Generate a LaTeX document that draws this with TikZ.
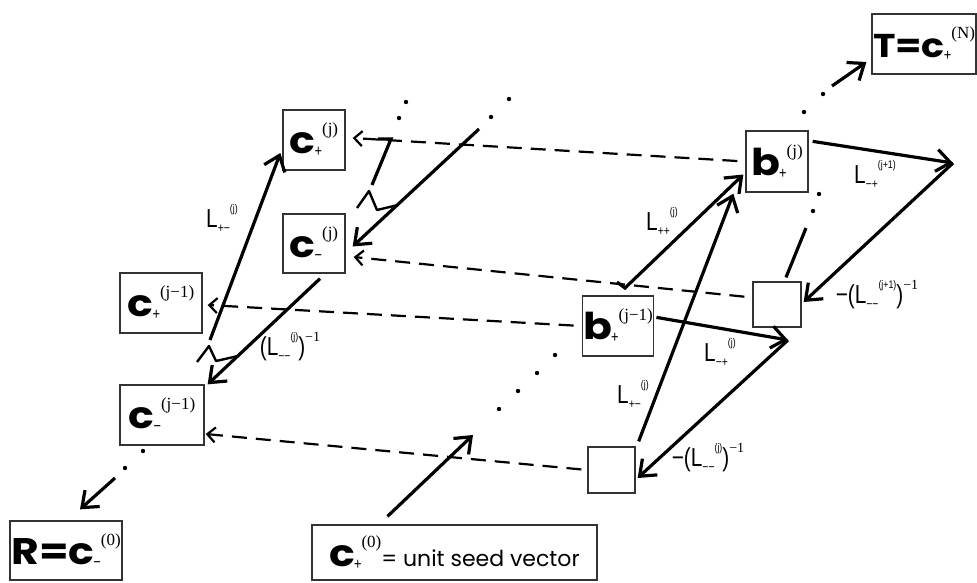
\documentclass[tikz,border=0pt]{standalone}
\usepackage{fontspec}
\usetikzlibrary{arrows.meta}
\newfontfamily\gfont{Poppins}
\newfontfamily\bfnt[FakeStretch=1.15]{Poppins}
\newfontfamily\lfont[FakeStretch=0.8]{Liberation Sans}
\newfontfamily\rfont{Liberation Serif}
\newcommand{\vtx}[3]{{\bfnt\bfseries #1}\kern-1pt\raisebox{-3pt}{\lfont\fontsize{16}{16}\selectfont #2}\raisebox{19pt}{\rfont\fontsize{17}{17}\selectfont #3}}
\newcommand{\Lop}[2]{L\raisebox{-5pt}{\fontsize{13}{13}\selectfont #1}\raisebox{15pt}{\fontsize{11}{11}\selectfont #2}}
\newcommand{\Linv}[2]{(\Lop{#1}{#2})\raisebox{14pt}{\rfont\fontsize{14}{14}\selectfont −1}}

\begin{document}
\begin{tikzpicture}[x=1pt, y=-1pt,
    vbox/.style={draw=black!80, line width=1.3pt, inner sep=1pt, font=\fontsize{37}{40}\selectfont},
    link/.style={line width=3.2pt, -{Straight Barb[length=14pt,width=22pt]}},
    back/.style={line width=2.2pt, dash pattern=on 15pt off 9pt, -{Straight Barb[length=8pt,width=15pt]}},
    opl/.style={font=\lfont\fontsize{26}{26}\selectfont, inner sep=0pt}]
  \useasboundingbox (0,0) rectangle (977,582);

  \node[vbox, minimum width=62pt, minimum height=60pt] (cpj) at (314,140) {\vtx{c}{+}{(j)}};
  \node[vbox, minimum width=62pt, minimum height=59pt] (cmj) at (314,243.5) {\vtx{c}{−}{(j)}};
  \node[vbox, minimum width=82pt, minimum height=60pt] (cpjm) at (161,303) {\vtx{c}{+}{(j−1)}};
  \node[vbox, minimum width=84pt, minimum height=60pt] (cmjm) at (162,415) {\vtx{c}{−}{(j−1)}};
  \node[vbox, minimum width=112pt, minimum height=59pt] (rbox) at (66,550.5) {{\bfnt\bfseries R=}\vtx{c}{−}{(0)}};
  \node[vbox, minimum width=285pt, minimum height=55pt] (seed) at (454.5,552.5) {\vtx{c}{+}{(0)}{\gfont\fontsize{22}{22}\selectfont= unit seed vector}};
  \node[vbox, minimum width=102pt, minimum height=60pt, font=\fontsize{33}{36}\selectfont] (tbox) at (924,44) {{\bfnt\bfseries T=}\vtx{c}{+}{(N)}};
  \node[vbox, minimum width=62pt, minimum height=61pt] (bj) at (777,161.5) {\vtx{b}{+}{(j)}};
  \node[vbox, minimum width=70pt, minimum height=60pt] (bjm) at (618,326) {\vtx{b}{+}{(j−1)}};
  \node[vbox, minimum width=48pt, minimum height=45pt] (ej1) at (777,304.5) {};
  \node[vbox, minimum width=47pt, minimum height=46pt] (ej) at (611.5,470) {};

  \coordinate (lt) at (210,340);
  \coordinate (mt) at (479,129);
  \coordinate (sa) at (473,435);
  \coordinate (rt) at (115,478);
  \coordinate (tt) at (832,86);
  \coordinate (kb) at (625,288);
  \coordinate (kj) at (953,163);
  \coordinate (kjm) at (788,340);
  \coordinate (lu) at (806,228);

  \draw[back, shorten <=8pt] (bj.west) -- ([xshift=7pt,yshift=2pt]cpj.east);
  \draw[back, shorten <=8pt] ([yshift=7pt]ej1.west) -- ([xshift=8pt,yshift=-13.5pt]cmj.east);
  \draw[back, shorten <=8pt] (bjm.west) -- ([xshift=5pt,yshift=-2pt]cpjm.east);
  \draw[back, shorten <=6pt] (ej.west) -- ([xshift=1pt,yshift=-19pt]cmjm.east);

  \draw[link] (lt) -- ([xshift=-2pt,yshift=-13pt]cpj.west);
  \draw[link] ([xshift=6pt,yshift=-5pt]cmj.south) -- ([xshift=3pt]cmjm.north east);
  \draw[link] (mt) -- ([xshift=7pt,yshift=-3pt]cmj.east);
  \draw[line width=3.2pt] (378,139) -- (391,139) -- (372,185);
  \draw[line width=2.4pt, line join=round] (197,362) -- (209,346) -- (216,361) -- (238,356);
  \draw[line width=2.4pt, line join=round] (357,208) -- (369,191) -- (377,210) -- (398,205);
  \draw[link] ([xshift=-67pt,yshift=8pt]seed.north) -- (sa);
  \draw[link] (rt) -- ([xshift=14pt,yshift=11pt]rbox.north);
  \draw[link] (tt) -- ([xshift=-5pt,yshift=-18pt]tbox.west);
  \draw[link] (617,282) -- (kb) -- ([xshift=-2pt,yshift=-13pt]bj.west);
  \draw[link] ([xshift=3pt,yshift=5pt]ej.north east) -- ([xshift=-12pt,yshift=-1pt]bj.south west);
  \draw[link] ([xshift=4pt,yshift=-11pt]bj.north east) -- (kj);
  \draw[link] (kj) -- ([xshift=2pt,yshift=2.5pt]ej1.east);
  \draw[line width=3.2pt] ([xshift=9pt,yshift=4pt]ej1.north) -- (lu);
  \draw[link] ([xshift=2pt,yshift=-22pt]bjm.north east) -- (kjm);
  \draw[link] (kjm) -- ([xshift=2pt,yshift=-8pt]ej.east);

  \foreach \x/\y in {499/409, 518/391, 537/373, 555/355, 143/451, 125/468, 804/112, 823/94,
    813/211, 819/194, 491/117, 509/99, 399/118, 406/102}
    \fill (\x,\y) circle (2.2pt);

  \node[opl] (lpml) at (222,219) {\Lop{+−}{(j)}};
  \node[opl] (lmml) at (290,347) {\Linv{−−}{(j)}};
  \node[opl] (lpp) at (662,222) {\Lop{++}{(j)}};
  \node[opl] (lpmr) at (633,395) {\Lop{+−}{(j)}};
  \node[opl] (lmpn) at (875,175) {\Lop{−+}{(j+1)}};
  \node[opl] (lmmn) at (877,295) {−\Linv{−−}{(j+1)}};
  \node[opl] (lmp) at (720,353) {\Lop{−+}{(j)}};
  \node[opl] (lmm) at (708,458) {−\Linv{−−}{(j)}};
\end{tikzpicture}
\end{document}
